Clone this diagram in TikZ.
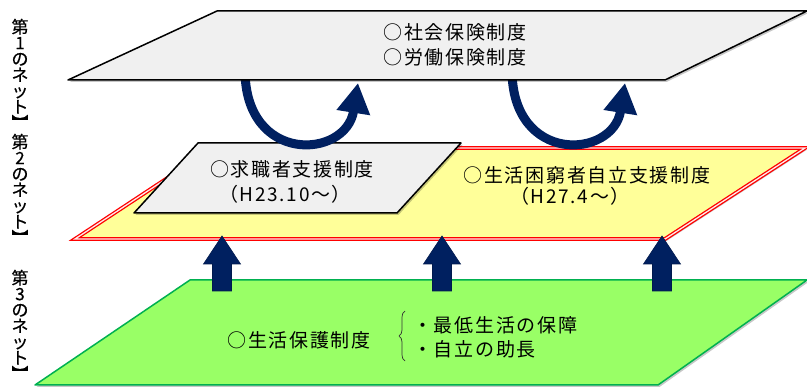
\documentclass[tikz,border=0pt]{standalone}
\usepackage{fontspec}
\setmainfont{Noto Sans CJK JP}
\newfontfamily\jp[LetterSpace=9]{Noto Sans CJK JP}
\newfontfamily\jplab[FakeBold=0.6]{Noto Sans CJK JP}
\usetikzlibrary{arrows.meta,shadows,decorations.pathreplacing}
\definecolor{navy}{HTML}{002060}
\definecolor{planegray}{HTML}{F0F0F0}
\definecolor{planeyellow}{HTML}{FFFF99}
\definecolor{planegreen}{HTML}{99FF66}
\definecolor{edgegreen}{HTML}{00B050}
\newcommand{\vbrk}{\rotatebox[origin=c]{-90}{】}}
\tikzset{
  shad/.style={drop shadow={shadow xshift=1.5pt,shadow yshift=-2pt,fill=black,opacity=0.22}},
  grayplane/.style={shad,fill=planegray,draw=black,line width=1.5pt,line join=round},
  yellowplane/.style={shad,fill=planeyellow,draw=red,double=red!8,double distance=1.3pt,line width=1.3pt,line join=miter},
  greenplane/.style={shad,fill=planegreen,draw=edgegreen,line width=1.5pt,line join=round},
  txt/.style={inner sep=0pt,font={\jp\fontsize{19}{22}\selectfont}},
  lab/.style={inner sep=0pt,align=center,font={\jplab\fontsize{17}{16}\selectfont}},
  loop/.style={draw=navy,line width=9pt,-{Triangle[length=30pt,width=32pt]}},
  blockarrow/.style={fill=navy,draw=navy!80!black,line width=0.6pt},
  bracebrace/.style={draw=black!80,line width=0.7pt,decorate,decoration={brace,amplitude=6pt}}
}
\begin{document}
\begin{tikzpicture}[x=1pt,y=-1pt]
\useasboundingbox (0,0) rectangle (807,387);
% third net (green)
\path[greenplane] (35,385) -- (658,385) -- (807,280) -- (190,280) -- cycle;
% second net (yellow)
\path[yellowplane] (75,239) -- (665,239) -- (805,148) -- (213,148) -- cycle;
% job-seeker support box
\path[grayplane] (134,213) -- (397,213) -- (461,143) -- (198,143) -- cycle;
% curved arrows (behind the top plane)
\coordinate (c1s) at (245,70);
\coordinate (c1e) at (358,83);
\coordinate (c2s) at (512,70);
\coordinate (c2e) at (625,83);
\draw[loop] (c1s) .. controls ([yshift=-95pt]c1s) and ([xshift=-12pt,yshift=-76pt]c1e) .. (c1e);
\draw[loop] (c2s) .. controls ([yshift=-95pt]c2s) and ([xshift=-12pt,yshift=-76pt]c2e) .. (c2e);
% first net (top)
\path[grayplane] (68,80) -- (665,80) -- (807,11) -- (217,11) -- cycle;
% block arrows
\foreach \cx in {222,442,662}{
  \path[blockarrow] (\cx,236) -- (\cx+18.5,264) -- (\cx+9.5,264) -- (\cx+9.5,291)
     -- (\cx-9.5,291) -- (\cx-9.5,264) -- (\cx-18.5,264) -- cycle;
}
% texts
\node[txt] (t1) at (455,32) {○社会保険制度};
\node[txt] (t2) at (455,57) {○労働保険制度};
\node[txt] (g1) at (292,169) {○求職者支援制度};
\node[txt] (g2) at (285,194) {（H23.10～）};
\node[txt] (y1) at (587,175) {○生活困窮者自立支援制度};
\node[txt] (y2) at (570,196) {（H27.4～）};
\node[txt] (p1) at (299,340) {○生活保護制度};
\node[txt,anchor=west] (b1) at (413,325) {・最低生活の保障};
\node[txt,anchor=west] (b2) at (413,349) {・自立の助長};
\coordinate (brb) at (405,361);
\coordinate (brt) at (405,311);
\draw[bracebrace] (brb) -- (brt);
% left labels
\node[lab] (L1) at (20,75) {第\\1\\の\\ネ\\ッ\\ト\\\vbrk};
\node[lab] (L2) at (20,190) {第\\2\\の\\ネ\\ッ\\ト\\\vbrk};
\node[lab] (L3) at (20,326) {第\\3\\の\\ネ\\ッ\\ト\\\vbrk};
\end{tikzpicture}
\end{document}
